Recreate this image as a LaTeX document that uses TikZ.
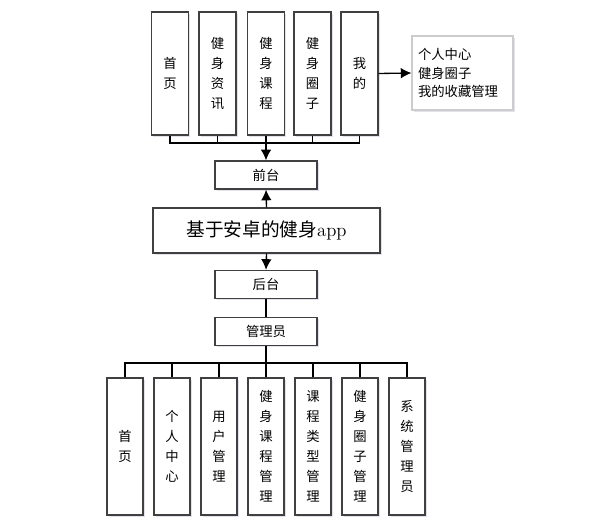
\documentclass[tikz,border=0pt]{standalone}
\usepackage{fontspec}
\newfontfamily\cjk{Noto Sans CJK SC}
\usetikzlibrary{arrows.meta,shadows}
\tikzset{
	box/.style={draw=black!75, line width=1pt, fill=white, align=center, inner sep=0pt,
		drop shadow={shadow xshift=1.2pt, shadow yshift=-1.2pt, opacity=0.3, fill=blue!25!gray!60},
		font=\cjk\fontsize{10}{15}\selectfont},
	topbox/.style={box, minimum width=27.75pt, minimum height=92.25pt},
	botbox/.style={box, minimum width=27pt, minimum height=102.75pt},
	midbox/.style={box, minimum width=76.5pt, minimum height=21pt},
	notebox/.style={box, draw=black!20, line width=0.8pt, align=left, text width=66.75pt,
		inner xsep=4.5pt, minimum height=55.5pt, font=\cjk\fontsize{10}{14}\selectfont},
}
\begin{document}
\begin{tikzpicture}[x=0.75pt, y=-0.75pt, >={Latex[length=8pt,width=8pt]}, line width=1pt]
				\useasboundingbox (0,0) rectangle (607,521);
				
				% 1. 前台功能
				\node[topbox] (sy)  at (170, 73.5) {首\\页};
				\node[topbox] (zx)  at (217.5, 73.5) {健\\身\\资\\讯};
				\node[topbox] (kc)  at (266, 73.5) {健\\身\\课\\程};
				\node[topbox] (qz)  at (312.5, 73.5) {健\\身\\圈\\子};
				\node[topbox] (wd)  at (359.5, 73.5) {我\\的};
				\node[notebox] (wdx) at (462.5, 73) {个人中心\\健身圈子\\我的收藏管理};
				
				% 2. 中间层
				\node[midbox] (qt)  at (266, 175) {前台};
				\node[box, minimum width=170.25pt, minimum height=33.75pt,
					font=\cjk\fontsize{14}{16}\selectfont] (app) at (266.5, 230.5) {基于安卓的健身{\rmfamily app}};
				\node[midbox] (ht)  at (266, 284.5) {后台};
				\node[midbox] (gly) at (266, 331.5) {管理员};
				
				% 3. 后台功能
				\node[botbox] (b1) at (125, 446.5) {首\\页};
				\node[botbox] (b2) at (172, 446.5) {个\\人\\中\\心};
				\node[botbox] (b3) at (219, 446.5) {用\\户\\管\\理};
				\node[botbox] (b4) at (266, 446.5) {健\\身\\课\\程\\管\\理};
				\node[botbox] (b5) at (313, 446.5) {课\\程\\类\\型\\管\\理};
				\node[botbox] (b6) at (360, 446.5) {健\\身\\圈\\子\\管\\理};
				\node[botbox] (b7) at (407, 446.5) {系\\统\\管\\理\\员};
				
				% 4. 连线
				\coordinate (busT) at (266, 143);
				\coordinate (busB) at (266, 363);
				\foreach \b in {sy, zx, kc, qz, wd}
					\draw (\b.south) |- (busT);
				\draw[->] (busT) -- (qt.north);
				\draw[->] (wd.east) -- (wdx.west);
				\draw[->] (app.north) -- (qt.south);
				\draw[->] (app.south) -- (ht.north);
				\draw (ht.south) -- (gly.north);
				\draw (gly.south) -- (busB);
				\foreach \b in {b1, b2, b3, b4, b5, b6, b7}
					\draw (\b.north) |- (busB);
			\end{tikzpicture}
\end{document}
